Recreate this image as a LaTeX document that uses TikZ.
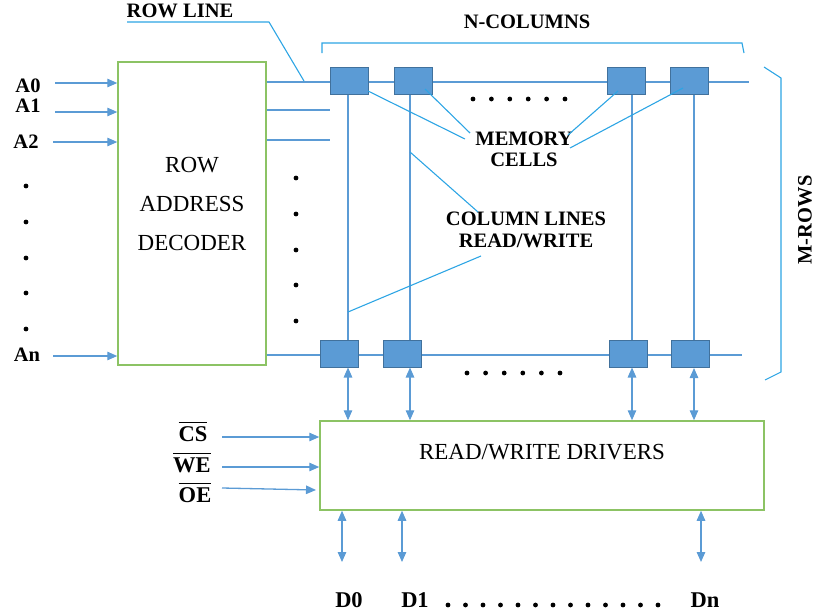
\documentclass[tikz,border=0pt]{standalone}
\usepackage{fontspec}
\setmainfont{Liberation Serif}
\usetikzlibrary{arrows.meta}
\definecolor{wirec}{RGB}{91,155,213}
\definecolor{cellfill}{RGB}{91,155,213}
\definecolor{celldraw}{RGB}{65,113,156}
\definecolor{leadc}{RGB}{45,165,228}
\definecolor{boxgreen}{RGB}{140,195,100}
\begin{document}
\begin{tikzpicture}[x=1pt,y=-1pt,
  wire/.style={draw=wirec, line width=1.3pt},
  arr/.style={wire, -{Triangle[length=10pt,width=8.5pt]}},
  darr/.style={wire, {Triangle[length=10pt,width=8.5pt]}-{Triangle[length=10pt,width=8.5pt]}},
  cell/.style={draw=celldraw, fill=cellfill, line width=1pt, minimum width=38pt, minimum height=27pt, inner sep=0pt},
  lbl/.style={font=\fontsize{20.5}{21}\selectfont\bfseries, inner sep=0pt, align=center},
  biglbl/.style={font=\fontsize{22.5}{24}\selectfont\bfseries, inner sep=0pt},
  boxtxt/.style={font=\fontsize{23}{39}\selectfont, inner sep=0pt, align=center},
  leader/.style={draw=leadc, line width=1.1pt},
  blk/.style={draw=boxgreen, line width=1.5pt, inner sep=0pt},
  dotn/.style={circle, fill=black, inner sep=0pt, minimum size=4.8pt}]
\useasboundingbox (0,0) rectangle (815,611);

% decoder
\node[blk, minimum width=148pt, minimum height=303pt] (dec) at (192,213.5) {};
\node[boxtxt] (dectxt) at (192,204) {ROW\\ADDRESS\\DECODER};

% address inputs
\node[lbl] (la0) at (28,86) {A0};
\node[lbl] (la1) at (28,106) {A1};
\node[lbl] (la2) at (26,142) {A2};
\node[lbl] (lan) at (27,355) {An};
\coordinate (a0s) at (55,83);
\coordinate (a1s) at (55,112);
\coordinate (a2s) at (53,142);
\coordinate (ans) at (53,356);
\draw[arr] (a0s) -- (dec.west |- a0s);
\draw[arr] (a1s) -- (dec.west |- a1s);
\draw[arr] (a2s) -- (dec.west |- a2s);
\draw[arr] (ans) -- (dec.west |- ans);
\foreach \i/\y in {1/186,2/222,3/258,4/293,5/329}
  \node[dotn] (ld\i) at (26,\y) {};
\foreach \i/\y in {1/178,2/214,3/250,4/285,5/321}
  \node[dotn] (rd\i) at (296,\y) {};

% row lines
\coordinate (r0e) at (749,82);
\coordinate (r1e) at (330,110);
\coordinate (r2e) at (330,140);
\coordinate (rne) at (742,355);
\draw[wire] (dec.east |- r0e) -- (r0e);
\draw[wire] (dec.east |- r1e) -- (r1e);
\draw[wire] (dec.east |- r2e) -- (r2e);
\draw[wire] (dec.east |- rne) -- (rne);

% column line x positions
\coordinate (k1) at (348,200);
\coordinate (k2) at (410,200);
\coordinate (k3) at (632,200);
\coordinate (k4) at (694,200);

% cells
\node[cell] (t1) at (349,80.5) {};
\node[cell] (t2) at (413.5,80.5) {};
\node[cell] (t3) at (626.5,80.5) {};
\node[cell] (t4) at (689.5,80.5) {};
\node[cell] (b1) at (339.5,353.5) {};
\node[cell] (b2) at (402,353.5) {};
\node[cell] (b3) at (628,353.5) {};
\node[cell] (b4) at (690.5,354) {};

\draw[wire] (k1 |- t1.south) -- (k1 |- b1.north);
\draw[wire] (k2 |- t2.south) -- (k2 |- b2.north);
\draw[wire] (k3 |- t3.south) -- (k3 |- b3.north);
\draw[wire] (k4 |- t4.south) -- (k4 |- b4.north);

\foreach \i in {0,...,5}
  \node[dotn] (td\i) at (473+\i*18.4,99) {};
\foreach \i in {0,...,5}
  \node[dotn] (bd\i) at (467+\i*18.6,373) {};

% read/write drivers
\node[blk, minimum width=444pt, minimum height=89pt] (rw) at (542,465.5) {};
\node[boxtxt] (rwtxt) at (542,452) {READ/WRITE DRIVERS};

\draw[darr] (k1 |- b1.south) -- (k1 |- rw.north);
\draw[darr] (k2 |- b2.south) -- (k2 |- rw.north);
\draw[darr] (k3 |- b3.south) -- (k3 |- rw.north);
\draw[darr] (k4 |- b4.south) -- (k4 |- rw.north);

% control inputs
\node[biglbl] (cs) at (193,432) {$\overline{\hbox{\textbf{CS}\rule{0pt}{18pt}}}$};
\node[biglbl] (we) at (192,463) {$\overline{\hbox{\textbf{WE}\rule{0pt}{18pt}}}$};
\node[biglbl] (oe) at (195,493) {$\overline{\hbox{\textbf{OE}\rule{0pt}{18pt}}}$};
\coordinate (css) at (222,437);
\coordinate (wes) at (222,467);
\coordinate (oes) at (222,488);
\coordinate (oee) at (316,490);
\draw[arr] (css) -- (rw.west |- css);
\draw[arr] (wes) -- (rw.west |- wes);
\draw[arr] (oes) -- (oee);

% data lines
\coordinate (d0e) at (342,562);
\coordinate (d1e) at (402,562);
\coordinate (dne) at (701,562);
\draw[darr] (rw.south -| d0e) -- (d0e);
\draw[darr] (rw.south -| d1e) -- (d1e);
\draw[darr] (rw.south -| dne) -- (dne);
\node[biglbl] (d0) at (349,600) {D0};
\node[biglbl] (d1) at (415,600) {D1};
\node[biglbl] (dn) at (705,600) {Dn};
\foreach \i in {0,...,12}
  \node[dotn] (dd\i) at (448+\i*17.5,605) {};

% N-columns bracket
\coordinate (nc1) at (322,53);
\coordinate (nc2) at (322,43);
\coordinate (nc3) at (742,43);
\coordinate (nc4) at (744,53);
\draw[leader] (nc1) -- (nc2) -- (nc3) -- (nc4);
\node[lbl] (ncol) at (527,22) {N-COLUMNS};

% M-rows bracket
\coordinate (mr1) at (764,67);
\coordinate (mr2) at (781,78);
\coordinate (mr3) at (781,372);
\coordinate (mr4) at (765,380);
\draw[leader] (mr1) -- (mr2) -- (mr3) -- (mr4);
\node[lbl, rotate=90] (mrow) at (805,220) {M-ROWS};

% row line label
\node[lbl] (rowline) at (180,11) {ROW LINE};
\coordinate (rl1) at (127,22);
\coordinate (rl2) at (269,22);
\coordinate (rl3) at (304,81);
\draw[leader] (rl1) -- (rl2) -- (rl3);

% memory cells label
\node[lbl] (mem) at (524,149.5) {MEMORY\\CELLS};
\coordinate (m1a) at (368,91);  \coordinate (m1b) at (465,139);
\coordinate (m2a) at (425,89);  \coordinate (m2b) at (470,133);
\coordinate (m3a) at (618,91);  \coordinate (m3b) at (568,135);
\coordinate (m4a) at (683,88);  \coordinate (m4b) at (570,148);
\draw[leader] (m1a) -- (m1b);
\draw[leader] (m2a) -- (m2b);
\draw[leader] (m3a) -- (m3b);
\draw[leader] (m4a) -- (m4b);

% column lines label
\node[lbl, font=\fontsize{20.5}{22}\selectfont\bfseries] (coll) at (526,230) {COLUMN LINES\\READ/WRITE};
\coordinate (c1a) at (410,152); \coordinate (c1b) at (478,212);
\coordinate (c2a) at (481,256); \coordinate (c2b) at (348,312);
\draw[leader] (c1a) -- (c1b);
\draw[leader] (c2a) -- (c2b);
\end{tikzpicture}
\end{document}
